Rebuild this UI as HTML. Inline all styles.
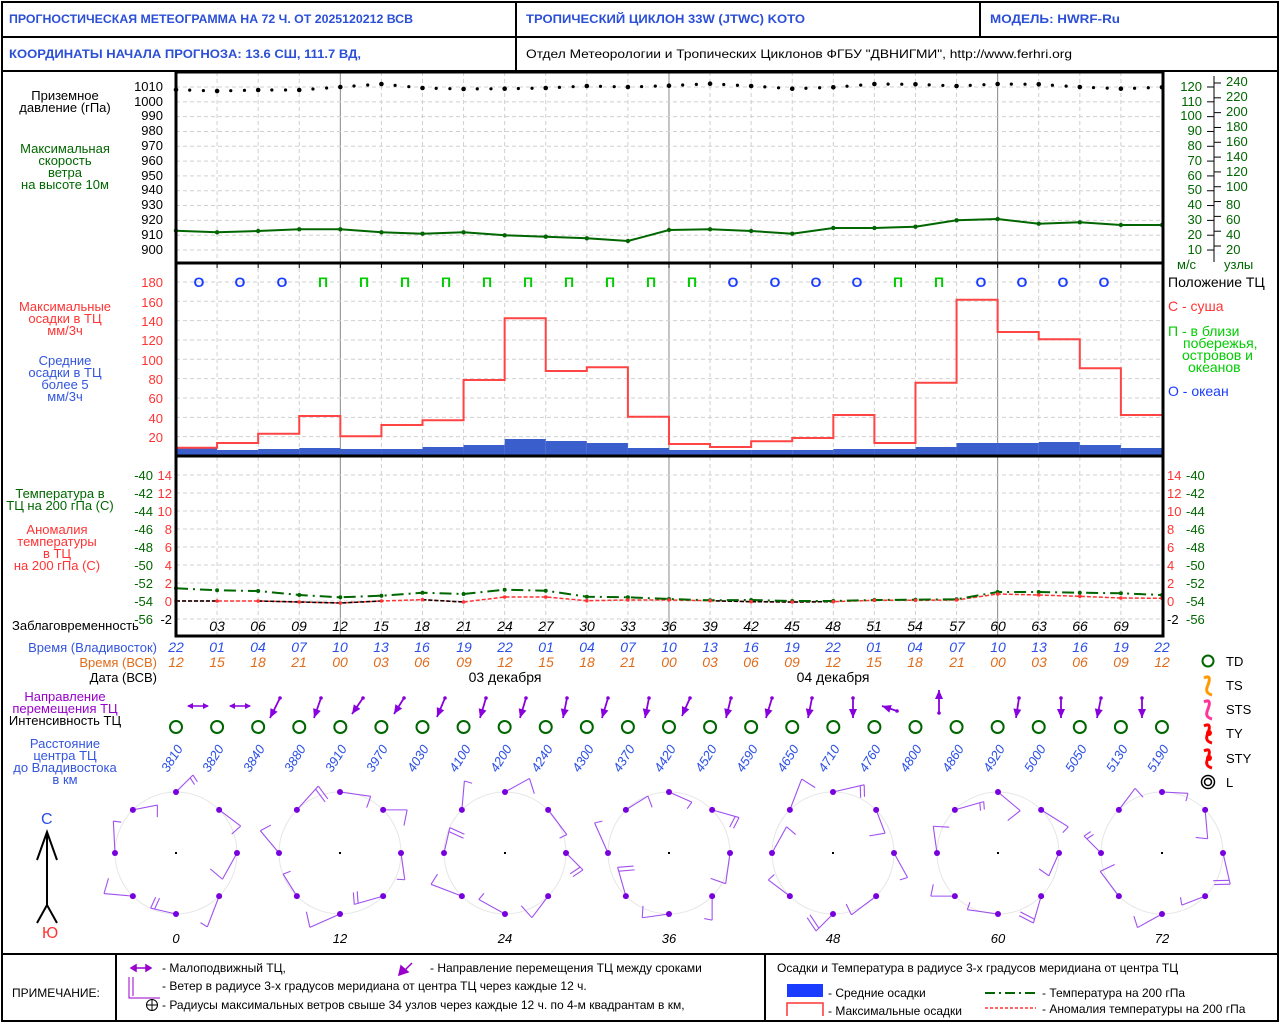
<!DOCTYPE html>
<html><head><meta charset="utf-8"><style>
html,body{margin:0;padding:0;background:#fff}
svg{display:block;font-family:"Liberation Sans",sans-serif}
.b{fill:#2b4fd6;font-weight:bold;font-size:12px}
.t{font-size:12px}
.l{font-size:13px}
.it{font-style:italic;font-size:14px}
</style></head><body>
<svg id="s" width="1280" height="1024" viewBox="0 0 1280 1024" xmlns="http://www.w3.org/2000/svg">
<rect x="0" y="0" width="1280" height="1024" fill="#fff"/>
<g id="g"></g>
<g fill="none" stroke="#000" stroke-width="2">
<rect x="2" y="2" width="1276" height="1019"/>
<line x1="2" y1="37" x2="1278" y2="37"/>
<line x1="2" y1="71" x2="1278" y2="71"/>
<line x1="516" y1="2" x2="516" y2="71"/>
<line x1="980" y1="2" x2="980" y2="37"/>
<line x1="2" y1="954" x2="1278" y2="954"/>
<line x1="116" y1="954" x2="116" y2="1022"/>
<line x1="765" y1="954" x2="765" y2="1022"/>
</g>
<g fill="none" stroke="#000" stroke-width="3">
<rect x="176" y="72" width="987" height="564"/>
<line x1="176" y1="263" x2="1163" y2="263"/>
<line x1="176" y1="456" x2="1163" y2="456"/>
</g>
<text class="b" x="9" y="23" textLength="404" lengthAdjust="spacingAndGlyphs">ПРОГНОСТИЧЕСКАЯ МЕТЕОГРАММА НА 72 Ч. ОТ 2025120212 ВСВ</text>
<text class="b" x="526" y="23" textLength="279" lengthAdjust="spacingAndGlyphs">ТРОПИЧЕСКИЙ ЦИКЛОН  33W (JTWC)  KOTO</text>
<text class="b" x="990" y="23" textLength="130" lengthAdjust="spacingAndGlyphs">МОДЕЛЬ:  HWRF-Ru</text>
<text class="b" x="9" y="58" textLength="352" lengthAdjust="spacingAndGlyphs">КООРДИНАТЫ НАЧАЛА ПРОГНОЗА:  13.6  СШ,   111.7  ВД,</text>
<text class="t" x="526" y="58" textLength="546" lengthAdjust="spacingAndGlyphs">Отдел Метеорологии и Тропических Циклонов ФГБУ "ДВНИГМИ",  http://www.ferhri.org</text>
<g class="l" text-anchor="middle">
<text x="65" y="100">Приземное</text><text x="65" y="112">давление (гПа)</text>
<g fill="#006600"><text x="65" y="153">Максимальная</text><text x="65" y="165">скорость</text><text x="65" y="177">ветра</text><text x="65" y="189">на высоте 10м</text></g>
<g fill="#ff3333"><text x="65" y="311">Максимальные</text><text x="65" y="323">осадки в ТЦ</text><text x="65" y="335">мм/3ч</text></g>
<g fill="#3355dd"><text x="65" y="365">Средние</text><text x="65" y="377">осадки в ТЦ</text><text x="65" y="389">более 5</text><text x="65" y="401">мм/3ч</text></g>
<g fill="#006600"><text x="60" y="498">Температура в</text><text x="60" y="510">ТЦ на 200 гПа (С)</text></g>
<g fill="#ff3333"><text x="57" y="534">Аномалия</text><text x="57" y="546">температуры</text><text x="57" y="558">в ТЦ</text><text x="57" y="570">на 200 гПа (С)</text></g>
<g fill="#9900cc"><text x="65" y="701">Направление</text><text x="65" y="713">перемещения ТЦ</text></g>
<text x="65" y="725">Интенсивность ТЦ</text>
<g fill="#3355dd"><text x="65" y="748">Расстояние</text><text x="65" y="760">центра ТЦ</text><text x="65" y="772">до Владивостока</text><text x="65" y="784">в км</text></g>
</g>
<text class="l" x="12" y="630">Заблаговременность</text>
<g class="t" text-anchor="end" style="font-size:13px">
<text x="157" y="652" fill="#3355dd">Время (Владивосток)</text>
<text x="157" y="667" fill="#e06c1a">Время (ВСВ)</text>
<text x="157" y="682">Дата (ВСВ)</text>
</g>
<g class="t" text-anchor="end" style="font-size:13px">
<text x="163" y="91">1010</text><text x="163" y="106">1000</text><text x="163" y="120">990</text><text x="163" y="135">980</text><text x="163" y="150">970</text><text x="163" y="165">960</text><text x="163" y="180">950</text><text x="163" y="194">940</text><text x="163" y="209">930</text><text x="163" y="224">920</text><text x="163" y="239">910</text><text x="163" y="254">900</text>
</g>
<g class="t" fill="#006600" text-anchor="end" style="font-size:13px">
<text x="1202" y="91">120</text><text x="1202" y="106">110</text><text x="1202" y="120">100</text><text x="1202" y="135">90</text><text x="1202" y="150">80</text><text x="1202" y="165">70</text><text x="1202" y="180">60</text><text x="1202" y="194">50</text><text x="1202" y="209">40</text><text x="1202" y="224">30</text><text x="1202" y="239">20</text><text x="1202" y="254">10</text>
</g>
<g class="t" fill="#006600" style="font-size:13px">
<text x="1226" y="86">240</text><text x="1226" y="101">220</text><text x="1226" y="116">200</text><text x="1226" y="131">180</text><text x="1226" y="146">160</text><text x="1226" y="161">140</text><text x="1226" y="176">120</text><text x="1226" y="191">100</text><text x="1226" y="209">80</text><text x="1226" y="224">60</text><text x="1226" y="239">40</text><text x="1226" y="254">20</text>
<text x="1177" y="269">м/с</text><text x="1224" y="269">узлы</text>
</g>
<line x1="1214" y1="76" x2="1214" y2="262" stroke="#000"/>
<g class="t" fill="#ff3333" text-anchor="end" style="font-size:13px">
<text x="163" y="287">180</text><text x="163" y="307">160</text><text x="163" y="326">140</text><text x="163" y="345">120</text><text x="163" y="365">100</text><text x="163" y="384">80</text><text x="163" y="403">60</text><text x="163" y="423">40</text><text x="163" y="442">20</text>
</g>
<g class="t" style="font-size:13px">
<g fill="#006600" text-anchor="end"><text x="153" y="480">-40</text><text x="153" y="498">-42</text><text x="153" y="516">-44</text><text x="153" y="534">-46</text><text x="153" y="552">-48</text><text x="153" y="570">-50</text><text x="153" y="588">-52</text><text x="153" y="606">-54</text><text x="153" y="624">-56</text></g>
<g fill="#ff3333" text-anchor="end"><text x="172" y="480">14</text><text x="172" y="498">12</text><text x="172" y="516">10</text><text x="172" y="534">8</text><text x="172" y="552">6</text><text x="172" y="570">4</text><text x="172" y="588">2</text><text x="172" y="606">0</text><text x="172" y="624" fill="#000">-2</text></g>
<g fill="#ff3333"><text x="1167" y="480">14</text><text x="1167" y="498">12</text><text x="1167" y="516">10</text><text x="1167" y="534">8</text><text x="1167" y="552">6</text><text x="1167" y="570">4</text><text x="1167" y="588">2</text><text x="1167" y="606">0</text><text x="1167" y="624" fill="#000">-2</text></g>
<g fill="#006600"><text x="1186" y="480">-40</text><text x="1186" y="498">-42</text><text x="1186" y="516">-44</text><text x="1186" y="534">-46</text><text x="1186" y="552">-48</text><text x="1186" y="570">-50</text><text x="1186" y="588">-52</text><text x="1186" y="606">-54</text><text x="1186" y="624">-56</text></g>
</g>
<g style="font-size:14px">
<text x="1168" y="287">Положение ТЦ</text>
<text x="1168" y="311" fill="#ff3333">С - суша</text>
<text x="1168" y="336" fill="#00cc00">П - в близи</text>
<text x="1183" y="348" fill="#00cc00">побережья,</text>
<text x="1182" y="360" fill="#00cc00">островов и</text>
<text x="1188" y="372" fill="#00cc00">океанов</text>
<text x="1168" y="396" fill="#1a3cff">О - океан</text>
</g>
<g font-weight="bold" style="font-size:14px" text-anchor="middle">
<g fill="#1a3cff"><text x="199" y="287">О</text><text x="240" y="287">О</text><text x="282" y="287">О</text><text x="733" y="287">О</text><text x="775" y="287">О</text><text x="816" y="287">О</text><text x="857" y="287">О</text><text x="981" y="287">О</text><text x="1022" y="287">О</text><text x="1063" y="287">О</text><text x="1104" y="287">О</text></g>
<g fill="#00cc00"><text x="323" y="287">П</text><text x="364" y="287">П</text><text x="405" y="287">П</text><text x="446" y="287">П</text><text x="487" y="287">П</text><text x="528" y="287">П</text><text x="569" y="287">П</text><text x="610" y="287">П</text><text x="651" y="287">П</text><text x="692" y="287">П</text><text x="898" y="287">П</text><text x="939" y="287">П</text></g>
</g>
<g class="it" text-anchor="middle">
<text x="217" y="631">03</text><text x="258" y="631">06</text><text x="299" y="631">09</text><text x="340" y="631">12</text><text x="381" y="631">15</text><text x="422" y="631">18</text><text x="464" y="631">21</text><text x="505" y="631">24</text><text x="546" y="631">27</text><text x="587" y="631">30</text><text x="628" y="631">33</text><text x="669" y="631">36</text><text x="710" y="631">39</text><text x="751" y="631">42</text><text x="792" y="631">45</text><text x="833" y="631">48</text><text x="874" y="631">51</text><text x="915" y="631">54</text><text x="957" y="631">57</text><text x="998" y="631">60</text><text x="1039" y="631">63</text><text x="1080" y="631">66</text><text x="1121" y="631">69</text>
</g>
<g class="it" text-anchor="middle" fill="#2b4fe6">
<text x="176" y="652">22</text><text x="217" y="652">01</text><text x="258" y="652">04</text><text x="299" y="652">07</text><text x="340" y="652">10</text><text x="381" y="652">13</text><text x="422" y="652">16</text><text x="464" y="652">19</text><text x="505" y="652">22</text><text x="546" y="652">01</text><text x="587" y="652">04</text><text x="628" y="652">07</text><text x="669" y="652">10</text><text x="710" y="652">13</text><text x="751" y="652">16</text><text x="792" y="652">19</text><text x="833" y="652">22</text><text x="874" y="652">01</text><text x="915" y="652">04</text><text x="957" y="652">07</text><text x="998" y="652">10</text><text x="1039" y="652">13</text><text x="1080" y="652">16</text><text x="1121" y="652">19</text><text x="1162" y="652">22</text>
</g>
<g class="it" text-anchor="middle" fill="#e06c1a">
<text x="176" y="667">12</text><text x="217" y="667">15</text><text x="258" y="667">18</text><text x="299" y="667">21</text><text x="340" y="667">00</text><text x="381" y="667">03</text><text x="422" y="667">06</text><text x="464" y="667">09</text><text x="505" y="667">12</text><text x="546" y="667">15</text><text x="587" y="667">18</text><text x="628" y="667">21</text><text x="669" y="667">00</text><text x="710" y="667">03</text><text x="751" y="667">06</text><text x="792" y="667">09</text><text x="833" y="667">12</text><text x="874" y="667">15</text><text x="915" y="667">18</text><text x="957" y="667">21</text><text x="998" y="667">00</text><text x="1039" y="667">03</text><text x="1080" y="667">06</text><text x="1121" y="667">09</text><text x="1162" y="667">12</text>
</g>
<g style="font-size:14px" text-anchor="middle"><text x="505" y="682">03 декабря</text><text x="833" y="682">04 декабря</text></g>
<g class="it" fill="#2b4fe6" style="font-size:13px">
<text transform="translate(168,773) rotate(-58)">3810</text><text transform="translate(209,773) rotate(-58)">3820</text><text transform="translate(250,773) rotate(-58)">3840</text><text transform="translate(291,773) rotate(-58)">3880</text><text transform="translate(332,773) rotate(-58)">3910</text><text transform="translate(373,773) rotate(-58)">3970</text><text transform="translate(414,773) rotate(-58)">4030</text><text transform="translate(456,773) rotate(-58)">4100</text><text transform="translate(497,773) rotate(-58)">4200</text><text transform="translate(538,773) rotate(-58)">4240</text><text transform="translate(579,773) rotate(-58)">4300</text><text transform="translate(620,773) rotate(-58)">4370</text><text transform="translate(661,773) rotate(-58)">4420</text><text transform="translate(702,773) rotate(-58)">4520</text><text transform="translate(743,773) rotate(-58)">4590</text><text transform="translate(784,773) rotate(-58)">4650</text><text transform="translate(825,773) rotate(-58)">4710</text><text transform="translate(866,773) rotate(-58)">4760</text><text transform="translate(907,773) rotate(-58)">4800</text><text transform="translate(949,773) rotate(-58)">4860</text><text transform="translate(990,773) rotate(-58)">4920</text><text transform="translate(1031,773) rotate(-58)">5000</text><text transform="translate(1072,773) rotate(-58)">5050</text><text transform="translate(1113,773) rotate(-58)">5130</text><text transform="translate(1154,773) rotate(-58)">5190</text>
</g>
<g class="it" text-anchor="middle" style="font-size:13px">
<text x="176" y="943">0</text><text x="340" y="943">12</text><text x="505" y="943">24</text><text x="669" y="943">36</text><text x="833" y="943">48</text><text x="998" y="943">60</text><text x="1162" y="943">72</text>
</g>
<text x="41" y="824" fill="#2b4fe6" style="font-size:16px">С</text>
<text x="42" y="938" fill="#ff3333" style="font-size:16px">Ю</text>
<g stroke="#000" stroke-width="2" fill="none">
<line x1="47" y1="832" x2="47" y2="905"/><polyline points="37,860 47,832 57,860"/><polyline points="37,923 47,905 57,923"/>
</g>
<g style="font-size:13px">
<text x="1226" y="666">TD</text><text x="1226" y="690">TS</text><text x="1226" y="714">STS</text><text x="1226" y="738">TY</text><text x="1226" y="763">STY</text><text x="1226" y="787">L</text>
</g>
<circle cx="1208" cy="661" r="5.5" fill="none" stroke="#006600" stroke-width="2"/>
<path d="M1204,678 q8,-4 4,7 q-4,8 4,10" fill="none" stroke="#ff9900" stroke-width="3"/>
<path d="M1204,702 q8,-4 4,7 q-4,8 4,10" fill="none" stroke="#ff3399" stroke-width="3"/>
<path d="M1204,726 q8,-4 4,7 q-4,8 4,10" fill="none" stroke="#ff0000" stroke-width="3"/><circle cx="1209" cy="733" r="3" fill="#f00"/>
<path d="M1204,751 q8,-4 4,7 q-4,8 4,10" fill="none" stroke="#ff0000" stroke-width="3"/><circle cx="1209" cy="758" r="3" fill="#f00"/>
<circle cx="1208" cy="782" r="6.5" fill="none" stroke="#000" stroke-width="1.5"/><circle cx="1208" cy="782" r="3.5" fill="none" stroke="#000" stroke-width="1.5"/>
<g class="t" style="font-size:12px">
<text x="12" y="997">ПРИМЕЧАНИЕ:</text>
<text x="162" y="972">- Малоподвижный ТЦ,</text>
<text x="430" y="972">- Направление перемещения ТЦ между сроками</text>
<text x="162" y="990">- Ветер в радиусе 3-х градусов меридиана от центра ТЦ через каждые 12 ч.</text>
<text x="162" y="1009">- Радиусы максимальных ветров свыше 34 узлов через каждые 12 ч. по 4-м квадрантам в км,</text>
<text x="777" y="972">Осадки и Температура в радиусе 3-х градусов меридиана от центра ТЦ</text>
<text x="828" y="997">- Средние осадки</text>
<text x="828" y="1015">- Максимальные осадки</text>
<text x="1042" y="997">- Температура на 200 гПа</text>
<text x="1042" y="1013">- Аномалия температуры на 200 гПа</text>
</g>
<g stroke="#9900cc" fill="#9900cc" stroke-width="1.5">
<line x1="131" y1="968" x2="151" y2="968"/><polygon points="131,968 136,965 136,971"/><polygon points="151,968 146,965 146,971"/>
<line x1="412" y1="963" x2="402" y2="973"/><polygon points="399,975 401,966 408,972"/>
<polyline points="129,977 129,998 160,998" fill="none" stroke-width="1"/><line x1="133" y1="977" x2="133" y2="996" stroke-width="1"/>
</g>
<circle cx="152" cy="1005" r="5.5" fill="none" stroke="#000"/><line x1="146" y1="1005" x2="158" y2="1005" stroke="#000"/><line x1="152" y1="999" x2="152" y2="1011" stroke="#000"/>
<rect x="787" y="984" width="36" height="13" fill="#1a3cff"/>
<polyline points="787,1016 787,1003 823,1003 823,1016" fill="none" stroke="#ff3333" stroke-width="1.5"/>
<line x1="985" y1="993" x2="1036" y2="993" stroke="#006600" stroke-width="2" stroke-dasharray="10,4,2,4"/>
<line x1="985" y1="1008" x2="1036" y2="1008" stroke="#ff3333" stroke-width="1.5" stroke-dasharray="3,2"/>
</svg>
<script>
(function(){
var g=document.getElementById('g'),NS='http://www.w3.org/2000/svg';
function el(n,a){var e=document.createElementNS(NS,n);for(var k in a)e.setAttribute(k,a[k]);g.appendChild(e);return e;}
function X(h){return 176+h*13.694;}
var grid={stroke:'#d0d0d0','stroke-dasharray':'4,3','stroke-width':1};
for(var h=3;h<72;h+=3){var s=(h%24==12);
 el('line',s?{x1:X(h),y1:72,x2:X(h),y2:636,stroke:'#888'}:Object.assign({x1:X(h),y1:72,x2:X(h),y2:636},grid));
 el('line',{x1:X(h),y1:262,x2:X(h),y2:268,stroke:'#000'});}
for(var v=0;v<12;v++){var y=87+v*14.82;el('line',Object.assign({x1:176,y1:y,x2:1163,y2:y},grid));
 el('line',{x1:1207,y1:y,x2:1214,y2:y,stroke:'#000'});el('line',{x1:1214,y1:y-4,x2:1221,y2:y-4,stroke:'#000'});}
for(var v=20;v<=180;v+=20){var y=456-v*0.967;el('line',Object.assign({x1:176,y1:y,x2:1163,y2:y},grid));}
for(var v=14;v>=-2;v-=2){var y=601-v*9;el('line',Object.assign({x1:176,y1:y,x2:1163,y2:y},grid));}
var mx=[447.7,443,433.7,416,436.3,425,420.3,380,318.3,371,367.3,416.7,444,447,441.3,438,415,443,382.7,299.7,332,339.3,368.3,415];
var av=[448,450,449,448,449,449,447,445,439,441,443,448,450,450,450,450,449,449,447,443,443,442,445,448];
for(var i=0;i<24;i++)el('rect',{x:X(i*3),y:av[i],width:X(i*3+3)-X(i*3),height:455-av[i],fill:'#3a5fcd'});
var p='M'+X(0)+','+mx[0];for(var i=0;i<24;i++){p+=' L'+X(i*3)+','+mx[i]+' L'+X(i*3+3)+','+mx[i];}
el('path',{d:p,fill:'none',stroke:'#ff4444','stroke-width':2});
var w=[230.7,232.3,231,229.3,229.3,232.3,233.7,232.3,235.3,236.7,238.3,241,230,229.3,231,233.7,228,228,226.7,220.3,219,223.7,222.3,225,225];
el('polyline',{points:w.map(function(y,i){return X(i*3)+','+y}).join(' '),fill:'none',stroke:'#006600','stroke-width':2});
w.forEach(function(y,i){el('circle',{cx:X(i*3),cy:y,r:2.2,fill:'#006600'})});
var pr=[89.7,91,90,90,87,84,88,89,88.7,88,86,87,85.7,83.7,86,88.7,87.3,84,84.3,86,84,84.3,87,88.7,87.3];
for(var i=0;i<24;i++){for(var k=0;k<3;k++){var t=k/3;el('circle',{cx:X(i*3+k),cy:pr[i]+(pr[i+1]-pr[i])*t,r:k==0?2.3:1.6,fill:'#000'});}}
el('circle',{cx:X(72),cy:pr[24],r:2.3,fill:'#000'});
var tg=[588.3,590.3,591,595,597.3,595.7,592.7,594,589.7,590.7,596.7,597.3,599,600.3,600,601,601,600,599.7,599.3,592,592,592.7,593.3,595];
var ta=[601,601,601,602,603,601,599.7,602,597,597,600.7,600,600,600.7,601.7,602,601.7,600.3,600.3,600,594,595,596.3,598,598.3];
el('polyline',{points:ta.map(function(y,i){return X(i*3)+','+y}).join(' '),fill:'none',stroke:'#ff3333','stroke-width':1.5,'stroke-dasharray':'4,2'});
[[0,1],[2,5],[6,7],[13,16]].forEach(function(r){var pp=[];for(var i=r[0];i<=r[1];i++)pp.push(X(i*3)+','+ta[i]);
 el('polyline',{points:pp.join(' '),fill:'none',stroke:'#000','stroke-width':1.5,'stroke-dasharray':'4,2'});});
el('polyline',{points:tg.map(function(y,i){return X(i*3)+','+y}).join(' '),fill:'none',stroke:'#006600','stroke-width':2,'stroke-dasharray':'12,5,2,5'});
tg.forEach(function(y,i){el('circle',{cx:X(i*3),cy:y,r:2,fill:'#006600'});el('circle',{cx:X(i*3),cy:ta[i],r:1.8,fill:'#ff3333'})});
for(var h=0;h<=72;h+=3)el('circle',{cx:X(h),cy:727,r:6,fill:'none',stroke:'#006600','stroke-width':2});
function arrow(x1,y1,x2,y2){el('line',{x1:x1,y1:y1,x2:x2,y2:y2,stroke:'#8800dd','stroke-width':1.8});
 var a=Math.atan2(y2-y1,x2-x1),L=9,W=4;
 var p1=[x2-L*Math.cos(a)+W*Math.sin(a),y2-L*Math.sin(a)-W*Math.cos(a)],p2=[x2-L*Math.cos(a)-W*Math.sin(a),y2-L*Math.sin(a)+W*Math.cos(a)];
 el('polygon',{points:x2+','+y2+' '+p1+' '+p2,fill:'#8800dd'});el('circle',{cx:x1,cy:y1,r:1.8,fill:'#8800dd'});}
[198,240].forEach(function(x){el('line',{x1:x-10,y1:706,x2:x+10,y2:706,stroke:'#8800dd','stroke-width':1.5});
 el('polygon',{points:(x-11)+',706 '+(x-5)+',703 '+(x-5)+',709',fill:'#8800dd'});el('polygon',{points:(x+11)+',706 '+(x+5)+',703 '+(x+5)+',709',fill:'#8800dd'});});
var ar=[[280,698,270,718],[321,698,314,718],[363,698,352,714],[404,698,394,714],[445,698,437,717],[486,698,480,718],[526,698,520,718],[567,698,563,718],[608,698,602,718],[649,698,645,718],[690,698,682,716],[731,698,726,718],[772,698,766,718],[812,698,808,718],[853,698,853,718],[1019,698,1016,718],[1061,698,1061,718],[1101,698,1097,718],[1142,698,1142,718]];
ar.forEach(function(a){arrow(a[0],a[1],a[2],a[3]);});
arrow(897,711,882,706);arrow(939,713,939,690);
var cs=[176,340,505,669,833,998,1162],cy=853,R=61;
cs.forEach(function(cx,ci){el('circle',{cx:cx,cy:cy,r:R,fill:'none',stroke:'#e6e6e6'});el('rect',{x:cx-1,y:cy-1,width:2,height:2,fill:'#000'});
 for(var k=0;k<8;k++){var ang=-Math.PI/2+k*Math.PI/4,dx=cx+R*Math.cos(ang),dy=cy+R*Math.sin(ang);
  var dir=ang+Math.PI/2+ ((k*37+ci*53)%90-45)*Math.PI/180, L=24+((k*13+ci*7)%10);
  var ex=dx+L*Math.cos(dir),ey=dy+L*Math.sin(dir);
  el('line',{x1:dx,y1:dy,x2:ex,y2:ey,stroke:'#a050f0','stroke-width':1.1});
  var b=dir+Math.PI/2+0.2,bl=8+((k+ci)%3)*4;
  el('line',{x1:ex,y1:ey,x2:ex+bl*Math.cos(b),y2:ey+bl*Math.sin(b),stroke:'#a050f0','stroke-width':1.1});
  if((k+ci)%4==0){el('line',{x1:ex-4*Math.cos(dir),y1:ey-4*Math.sin(dir),x2:ex-4*Math.cos(dir)+bl*Math.cos(b),y2:ey-4*Math.sin(dir)+bl*Math.sin(b),stroke:'#a050f0','stroke-width':1.1});}
  el('circle',{cx:dx,cy:dy,r:3,fill:'#7700dd'});}
});
})();
</script>
</body></html>
